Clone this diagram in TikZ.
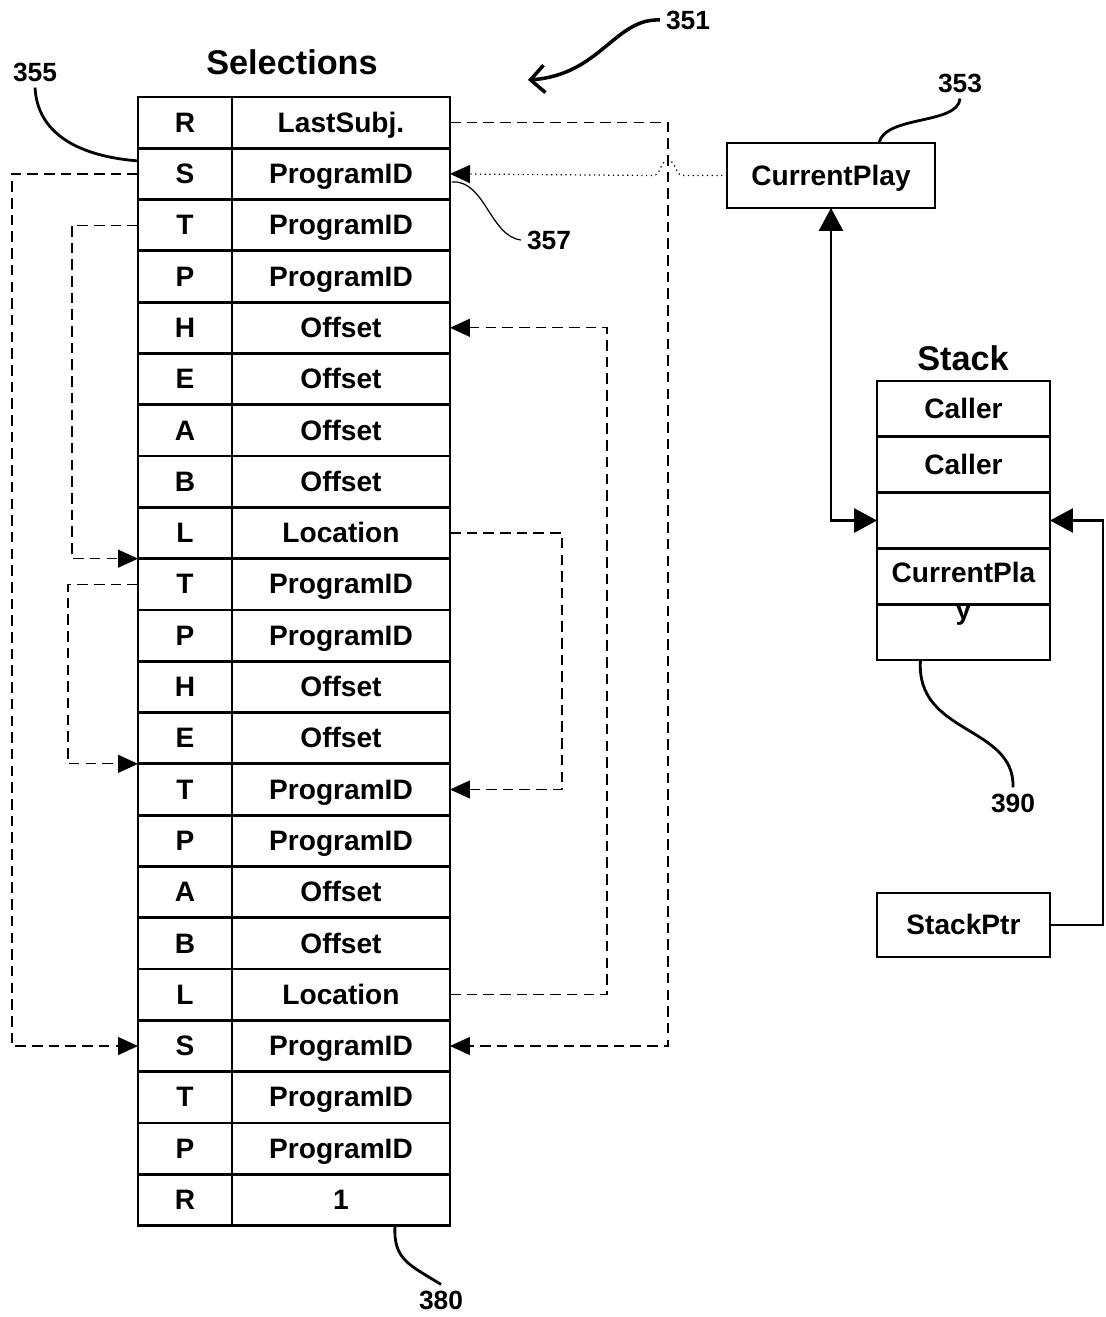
\documentclass[tikz,border=0pt]{standalone}
\usepackage{fontspec}
\setmainfont{Liberation Sans}
\usetikzlibrary{arrows.meta,calc}

\begin{document}
\begin{tikzpicture}[x=0.02cm, y=-0.02cm,
    >={Triangle[length=0.4cm,width=0.36cm]},
    cell/.style={draw, line width=1.6pt, inner sep=0pt, outer sep=0pt, text height=11pt, text depth=0pt, font=\fontsize{16}{18}\selectfont\bfseries},
    title/.style={font=\fontsize{19.5}{22}\selectfont\bfseries},
    num/.style={font=\fontsize{15}{17}\selectfont\bfseries},
    link/.style={line width=0.7pt, dash pattern=on 6pt off 3.5pt},
    wire/.style={line width=1.6pt, >={Triangle[length=0.46cm,width=0.48cm]}},
    lead/.style={line width=1.6pt}]
    \useasboundingbox (0,0) rectangle (1105,1317);
    % selections table
    \node[title] (seltitle) at (292,62) {Selections};
    \foreach \k/\v [count=\i] in {R/LastSubj., S/ProgramID, T/ProgramID, P/ProgramID, H/Offset, E/Offset, A/Offset, B/Offset, L/Location, T/ProgramID, P/ProgramID, H/Offset, E/Offset, T/ProgramID, P/ProgramID, A/Offset, B/Offset, L/Location, S/ProgramID, T/ProgramID, P/ProgramID, R/1} {
        \node[cell, minimum width=1.88cm, minimum height=1.026cm] (key\i) at (185, 71.3+51.3*\i) {\k};
        \node[cell, minimum width=4.36cm, minimum height=1.026cm] (val\i) at (341, 71.3+51.3*\i) {\v};
    }
    % stack
    \node[title] (stktitle) at (963,358) {Stack};
    \foreach \t [count=\j] in {Caller, Caller, {}, {}, {}}
        \node[cell, minimum width=3.46cm, minimum height=1.116cm] (stk\j) at (963.5, 353.1+55.8*\j) {\t};
    \node[cell, draw=none, align=center, anchor=north, text height=, text depth=] (stkcur) at (963.5,562) {CurrentPla\\[3pt]y};
    \node[cell, minimum width=4.16cm, minimum height=1.3cm] (curplay) at (831,175.5) {CurrentPlay};
    \node[cell, minimum width=3.46cm, minimum height=1.28cm] (stackptr) at (963.5,925) {StackPtr};
    % dashed links
    \draw[link,->] (val1.east) -- ++(218,0) |- (val19.east);
    \draw[link,->] (key2.west) -- ++(-126,0) |- (key19.west);
    \draw[link,->] (key3.west) -- ++(-66,0) |- (key10.north west);
    \draw[link,->] (key10.west) -- ++(-70,0) |- (key14.north west);
    \draw[link,->] (val18.east) -- ++(157,0) |- (val5.east);
    \draw[link,->] (val9.east) -- ++(112,0) |- (val14.east);
    % dotted one hops over
    \draw[line width=0.7pt, dotted, ->] (curplay.west) -- ++(-44,0) to[out=180,in=0] ++(-15,-15) to[out=180,in=0] ++(-15,15) -- (val2.east);
    \draw[wire,<->] (curplay.south) |- (stk3.west);
    \draw[wire,->] (stackptr.east) -- ++(53,0) |- (stk3.east);
    % reference numbers
    \node[num] (lab351) at (688,20) {351};
    \coordinate (tip351) at (528,80);
    \draw[lead,line width=2pt,-{Straight Barb[length=0.28cm,width=0.55cm]}] (lab351.west) .. controls (615,18) and (600,75) .. (tip351);
    \node[num] (lab355) at (35,72) {355};
    \draw[lead] (lab355.south) .. controls (38,145) and (100,158) .. ($(key2.west)+(0,-13)$);
    \node[num] (lab357) at (549,240) {357};
    \draw[line width=0.7pt] ($(val2.east)+(2,8)$) .. controls (485,180) and (490,236) .. (lab357.west);
    \node[num] (lab353) at (960,83) {353};
    \draw[lead] (lab353.south) .. controls (958,125) and (885,115) .. ($(curplay.north)+(48,0)$);
    \node[num] (lab390) at (1013,803) {390};
    \draw[lead] ($(stk5.south)+(-43,0)$) .. controls (915,735) and (1015,725) .. (lab390.north);
    \node[num] (lab380) at (441,1300) {380};
    \draw[lead] ($(val22.south)+(54,0)$) .. controls (393,1260) and (410,1265) .. (lab380.north);
\end{tikzpicture}
\end{document}
